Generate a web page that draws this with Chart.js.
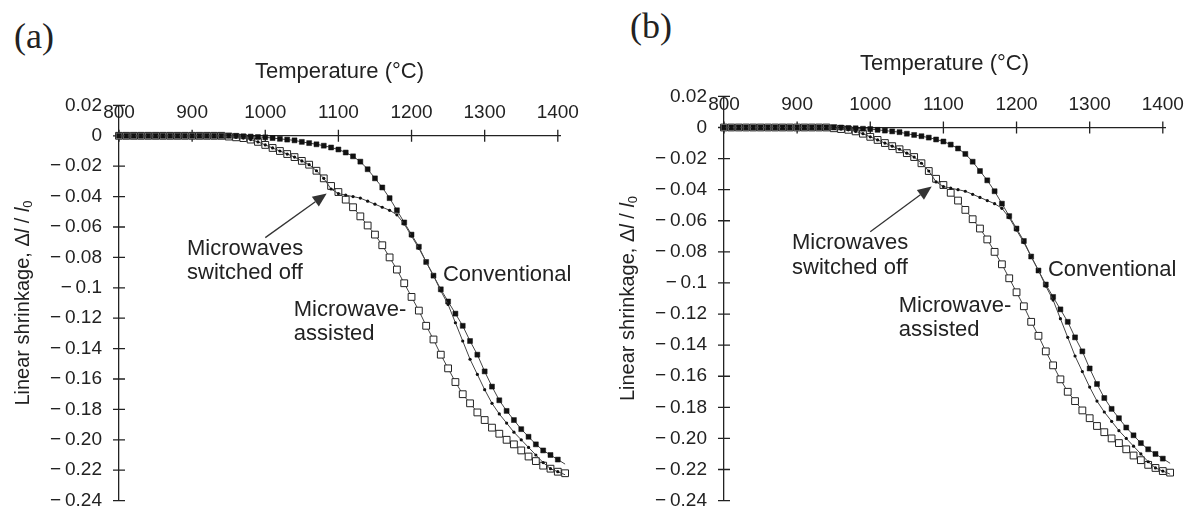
<!DOCTYPE html>
<html>
<head>
<meta charset="utf-8">
<script src="https://cdn.jsdelivr.net/npm/chart.js@4.4.1/dist/chart.umd.min.js"></script>
<style>
html, body { margin: 0; padding: 0; background: #fff; overflow: hidden; }
#page { position: relative; width: 1188px; height: 529px; }
canvas { position: absolute; top: 0; }
.panel-tag { position: absolute; font-family: "Liberation Serif", serif; font-size: 36px; line-height: 1; color: #222; }
</style>
</head>
<body>
<div id="page">
  <div class="panel-tag" style="left:14px; top:18px">(a)</div>
  <div class="panel-tag" style="left:630px; top:8px">(b)</div>
  <canvas id="chartA" width="594" height="529" style="left:0"></canvas>
  <canvas id="chartB" width="583" height="529" style="left:605px"></canvas>
</div>
<script>
// temperatures (°C)
const temps = [800, 810, 820, 830, 840, 850, 860, 870, 880, 890,
  900, 910, 920, 930, 940, 950, 960, 970, 980, 990,
  1000, 1010, 1020, 1030, 1040, 1050, 1060, 1070, 1080, 1090,
  1100, 1110, 1120, 1130, 1140, 1150, 1160, 1170, 1180, 1190,
  1200, 1210, 1220, 1230, 1240, 1250, 1260, 1270, 1280, 1290,
  1300, 1310, 1320, 1330, 1340, 1350, 1360, 1370, 1380, 1390,
  1400, 1410];

// linear shrinkage dl/l0
const conventional = [0, 0, 0, 0, 0, 0, 0, 0, 0, 0,
  0, 0, 0, 0, 0, 0, 0, -0.0003, -0.0005, -0.0008,
  -0.001, -0.0015, -0.002, -0.0025, -0.003, -0.004, -0.0048, -0.0056, -0.0065, -0.0077,
  -0.009, -0.011, -0.0135, -0.017, -0.022, -0.028, -0.034, -0.041, -0.049, -0.057,
  -0.065, -0.073, -0.083, -0.092, -0.101, -0.109, -0.117, -0.125, -0.135, -0.144,
  -0.155, -0.165, -0.174, -0.181, -0.187, -0.193, -0.198, -0.203, -0.207, -0.210,
  -0.213, -0.216];

const microwaveAssisted = [0, 0, 0, 0, 0, 0, 0, 0, 0, 0,
  0, 0, 0, 0, 0, -0.0005, -0.001, -0.0015, -0.0025, -0.004,
  -0.006, -0.008, -0.010, -0.012, -0.014, -0.0165, -0.019, -0.023, -0.028, -0.033,
  -0.037, -0.042, -0.047, -0.053, -0.059, -0.065, -0.072, -0.080, -0.088, -0.097,
  -0.106, -0.115, -0.125, -0.134, -0.144, -0.153, -0.162, -0.170, -0.176, -0.182,
  -0.187, -0.192, -0.196, -0.200, -0.203, -0.207, -0.211, -0.214, -0.217, -0.219,
  -0.221, -0.222];

const switchedOff = [0, 0, 0, 0, 0, 0, 0, 0, 0, 0,
  0, 0, 0, 0, 0, -0.0005, -0.001, -0.0015, -0.0025, -0.004,
  -0.006, -0.008, -0.010, -0.012, -0.014, -0.0165, -0.019, -0.023, -0.028, -0.035,
  -0.038, -0.039, -0.040, -0.041, -0.043, -0.045, -0.047, -0.049, -0.052, -0.058,
  -0.066, -0.074, -0.083, -0.092, -0.102, -0.111, -0.123, -0.135, -0.147, -0.157,
  -0.167, -0.176, -0.183, -0.189, -0.195, -0.200, -0.205, -0.210, -0.215, -0.219,
  -0.221, -0.223];

// axis ticks
const xTickValues = [800, 900, 1000, 1100, 1200, 1300, 1400];
const yTickLabels = ['0.02', '0', '\u2212\u20090.02', '\u2212\u20090.04', '\u2212\u20090.06', '\u2212\u20090.08',
  '\u2212\u20090.1', '\u2212\u20090.12', '\u2212\u20090.14', '\u2212\u20090.16', '\u2212\u20090.18', '\u2212\u20090.20',
  '\u2212\u20090.22', '\u2212\u20090.24'];

// text notes, anchored in data units (left edge, middle)
const noteText = ['Microwaves', 'switched off', 'Conventional', 'Microwave-', 'assisted'];
const noteT = [893, 893, 1243, 1039, 1039];
const noteV = [-0.0745, -0.0905, -0.0915, -0.1145, -0.1305];
const arrowFrom = [1000, -0.067];
const arrowTo = [1084, -0.038];

const INK = '#222';
const SANS = '"Liberation Sans", Arial, sans-serif';

function pts(values) {
    return temps.map((t, i) => ({x: t, y: values[i]}));
}

const decor = {
    id: 'decor',
    beforeDatasetsDraw(chart) {
        const ctx = chart.ctx;
        const area = chart.chartArea;
        const xs = chart.scales.x, ys = chart.scales.y;
        const y0 = ys.getPixelForValue(0);
        ctx.save();
        ctx.strokeStyle = INK;
        ctx.lineWidth = 1.3;
        ctx.beginPath();
        xs.ticks.forEach(t => {
            const px = xs.getPixelForValue(t.value);
            ctx.moveTo(px, y0 - 6);
            ctx.lineTo(px, y0 + 6);
        });
        ys.ticks.forEach(t => {
            const py = ys.getPixelForValue(t.value);
            ctx.moveTo(area.left - 6, py);
            ctx.lineTo(area.left + 6, py);
        });
        ctx.stroke();
        ctx.restore();
    },
    afterDatasetsDraw(chart) {
        const ctx = chart.ctx;
        const area = chart.chartArea;
        const xs = chart.scales.x, ys = chart.scales.y;
        const y0 = ys.getPixelForValue(0);
        ctx.save();
        ctx.fillStyle = INK;

        // x title
        ctx.font = '22px ' + SANS;
        ctx.textAlign = 'center';
        ctx.textBaseline = 'middle';
        ctx.fillText('Temperature (\u00B0C)', (area.left + area.right) / 2, y0 - 64);

        // notes
        ctx.textAlign = 'left';
        for (let i = 0; i < noteText.length; i++) {
            ctx.fillText(noteText[i], xs.getPixelForValue(noteT[i]), ys.getPixelForValue(noteV[i]));
        }

        // arrow
        const ax = xs.getPixelForValue(arrowFrom[0]), ay = ys.getPixelForValue(arrowFrom[1]);
        const bx = xs.getPixelForValue(arrowTo[0]), by = ys.getPixelForValue(arrowTo[1]);
        const ang = Math.atan2(by - ay, bx - ax);
        const hl = 14, hw = 6;
        ctx.strokeStyle = '#333';
        ctx.lineWidth = 1.3;
        ctx.beginPath();
        ctx.moveTo(ax, ay);
        ctx.lineTo(bx - hl * Math.cos(ang), by - hl * Math.sin(ang));
        ctx.stroke();
        ctx.beginPath();
        ctx.moveTo(bx, by);
        ctx.lineTo(bx - hl * Math.cos(ang) + hw * Math.sin(ang), by - hl * Math.sin(ang) - hw * Math.cos(ang));
        ctx.lineTo(bx - hl * Math.cos(ang) - hw * Math.sin(ang), by - hl * Math.sin(ang) + hw * Math.cos(ang));
        ctx.closePath();
        ctx.fillStyle = '#333';
        ctx.fill();

        // y title: Linear shrinkage, Δl / l0
        ctx.fillStyle = INK;
        const parts = [
            ['Linear shrinkage, \u0394', '20px ' + SANS, 0],
            ['l', 'italic 20px ' + SANS, 0],
            [' / ', '20px ' + SANS, 0],
            ['l', 'italic 20px ' + SANS, 0],
            ['0', '13px ' + SANS, 5]
        ];
        let total = 0;
        parts.forEach(p => { ctx.font = p[1]; total += ctx.measureText(p[0]).width; });
        ctx.translate(area.left - 96, (area.top + area.bottom) / 2);
        ctx.rotate(-Math.PI / 2);
        let cx = -total / 2;
        parts.forEach(p => {
            ctx.font = p[1];
            ctx.fillText(p[0], cx, p[2]);
            cx += ctx.measureText(p[0]).width;
        });
        ctx.restore();
    }
};

function makePanel(canvasId, padTop, padBottom, padRight) {
    return new Chart(document.getElementById(canvasId), {
        type: 'line',
        data: {
            datasets: [
                {
                    label: 'Microwaves switched off',
                    data: pts(switchedOff),
                    borderColor: '#444',
                    borderWidth: 1,
                    pointStyle: 'circle',
                    pointRadius: 1.6,
                    pointBackgroundColor: '#111',
                    pointBorderColor: '#111',
                    pointBorderWidth: 0,
                    clip: false
                },
                {
                    label: 'Conventional',
                    data: pts(conventional),
                    borderColor: '#444',
                    borderWidth: 1,
                    pointStyle: 'rect',
                    pointRadius: 3.5,
                    pointBackgroundColor: '#111',
                    pointBorderColor: '#111',
                    pointBorderWidth: 0.5,
                    clip: false
                },
                {
                    label: 'Microwave-assisted',
                    data: pts(microwaveAssisted),
                    borderColor: '#444',
                    borderWidth: 1,
                    pointStyle: 'rect',
                    pointRadius: 4.8,
                    pointBackgroundColor: '#fff',
                    pointBorderColor: '#222',
                    pointBorderWidth: 1,
                    clip: false
                }
            ]
        },
        options: {
            responsive: false,
            animation: false,
            layout: {
                padding: {top: padTop, bottom: padBottom, left: 0, right: padRight}
            },
            plugins: {
                legend: {display: false},
                tooltip: {enabled: false}
            },
            elements: {
                line: {tension: 0}
            },
            scales: {
                x: {
                    type: 'linear',
                    position: {y: 0},
                    min: 800,
                    max: 1403,
                    grid: {display: false, drawTicks: false},
                    border: {display: true, color: INK, width: 1.3},
                    afterBuildTicks: function (scale) {
                        scale.ticks = xTickValues.map(v => ({value: v}));
                    },
                    ticks: {
                        maxRotation: 0,
                        autoSkip: false,
                        padding: -34.5,
                        color: INK,
                        font: {family: SANS, size: 19},
                        callback: function (value) {
                            return String(value);
                        }
                    }
                },
                y: {
                    type: 'linear',
                    position: 'left',
                    min: -0.24,
                    max: 0.02,
                    grid: {display: false, drawTicks: false},
                    border: {display: true, color: INK, width: 1.3},
                    afterFit: function (scale) {
                        scale.width = 119;
                    },
                    ticks: {
                        stepSize: 0.02,
                        padding: 17,
                        color: INK,
                        font: {family: SANS, size: 19},
                        callback: function (value) {
                            return yTickLabels[Math.round((0.02 - value) / 0.02)];
                        }
                    }
                }
            }
        },
        plugins: [decor]
    });
}

makePanel('chartA', 105.4, 12.8, 34);
makePanel('chartB', 96.4, 21.8, 23);
</script>
</body>
</html>
